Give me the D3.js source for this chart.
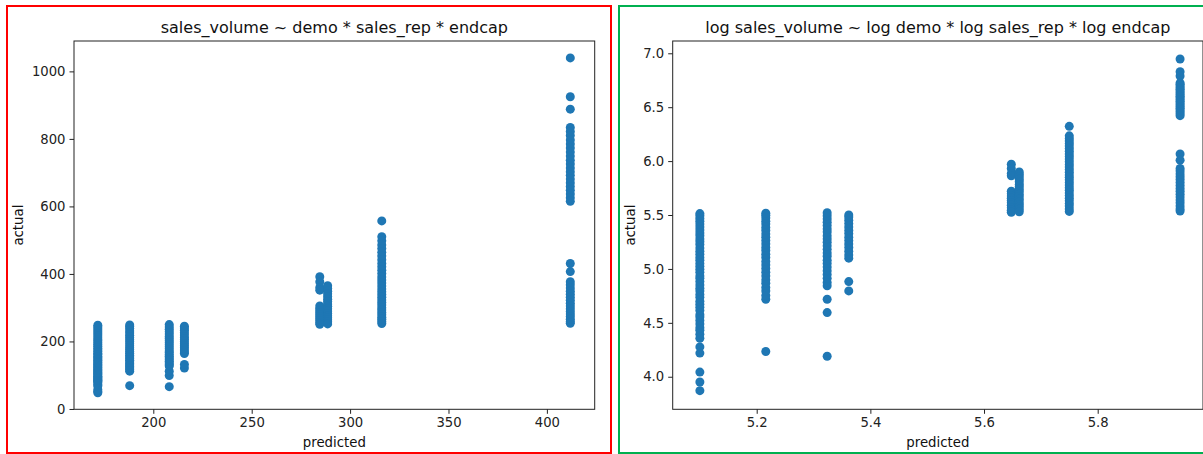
<!DOCTYPE html>
<html>
<head>
<meta charset="utf-8">
<script src="https://cdn.jsdelivr.net/npm/d3@7"></script>
<style>
  body { margin: 0; background: #fff; }
  svg { display: block; font-family: "DejaVu Sans", sans-serif; }
  .tick text { fill: #222; font-size: 13.2px; }
  .tick line { stroke: #222; }
</style>
</head>
<body>
<svg id="chart" width="1203" height="454"></svg>
<script>
// predicted value of each group, for the two models
const predLinear = [171.8, 188.0, 208.1, 215.8, 284.6, 288.6, 316.1, 411.9];
const predLog = [5.100, 5.216, 5.324, 5.362, 5.648, 5.662, 5.750, 5.945];

// actual sales_volume of each group (right panel draws the log of them)
const actual1 = [48, 52, 57, 68, 72, 78, 81, 84, 86, 89, 92, 95, 97, 101, 104, 107, 110, 114, 117, 121, 124, 128, 132, 136, 139, 144, 148, 152, 156, 161, 165, 170, 175, 180, 186, 191, 196, 202, 207, 213, 219, 225, 231, 237, 243, 248];
const actual2 = [69, 112, 116, 121, 125, 130, 134, 139, 144, 149, 154, 159, 165, 170, 176, 181, 187, 193, 199, 205, 212, 218, 225, 231, 238, 244, 249];
const actual3 = [66, 99, 112, 127, 131, 136, 141, 146, 151, 156, 161, 167, 172, 178, 184, 190, 196, 202, 209, 215, 222, 229, 236, 243, 250];
const actual4 = [121, 132, 164, 169, 175, 181, 187, 193, 199, 206, 212, 219, 226, 233, 240, 245];
const actual5 = [392, 377, 360, 352, 305, 298, 292, 286, 280, 274, 268, 262, 256, 251];
const actual6 = [365, 357, 349, 341, 333, 325, 318, 311, 304, 297, 290, 283, 276, 270, 264, 258, 252];
const actual7 = [557, 510, 498, 486, 475, 464, 453, 442, 431, 421, 411, 401, 391, 382, 373, 364, 355, 347, 339, 331, 323, 315, 308, 300, 293, 286, 279, 272, 266, 259, 253];
const actual8 = [1040, 925, 888, 834, 822, 810, 797, 785, 773, 761, 749, 737, 726, 714, 703, 692, 681, 670, 659, 648, 637, 626, 615,
                 431, 407, 377, 368, 358, 349, 340, 331, 322, 313, 305, 297, 289, 281, 274, 266, 259, 254];
const actualGroups = [actual1, actual2, actual3, actual4, actual5, actual6, actual7, actual8];

const linearTicksX = [200, 250, 300, 350, 400];
const linearTicksY = [0, 200, 400, 600, 800, 1000];
const logTicksX = [5.2, 5.4, 5.6, 5.8];
const logTicksY = [4.0, 4.5, 5.0, 5.5, 6.0, 6.5, 7.0];

const svg = d3.select("#chart");

// build the point lists
const linearPoints = [];
const logPoints = [];
actualGroups.forEach((vals, i) => {
    vals.forEach(v => {
        linearPoints.push({x: predLinear[i], y: v});
        logPoints.push({x: predLog[i], y: Math.log(v)});
    });
});

function drawPanel(opts) {
    const g = svg.append("g");

    // coloured frame round the panel
    g.append("rect")
        .attr("x", opts.frame[0]).attr("y", opts.frame[1])
        .attr("width", opts.frame[2]).attr("height", opts.frame[3])
        .attr("fill", "none")
        .attr("stroke", opts.frameColor)
        .attr("stroke-width", 2);

    const x = d3.scaleLinear().domain(opts.xDomain).range([opts.left, opts.right]);
    const y = d3.scaleLinear().domain(opts.yDomain).range([opts.bottom, opts.top]);

    // points
    g.selectAll("circle")
        .data(opts.points)
        .enter()
        .append("circle")
        .attr("cx", d => x(d.x))
        .attr("cy", d => y(d.y))
        .attr("r", 4.5)
        .attr("fill", "#1f77b4");

    // spines
    g.append("rect")
        .attr("x", opts.left).attr("y", opts.top)
        .attr("width", opts.right - opts.left)
        .attr("height", opts.bottom - opts.top)
        .attr("fill", "none")
        .attr("stroke", "#222")
        .attr("stroke-width", 1);

    // axes
    const xAxis = g.append("g")
        .attr("transform", `translate(0,${opts.bottom})`)
        .call(d3.axisBottom(x).tickValues(opts.xTicks).tickSize(4.5).tickPadding(4)
            .tickSizeOuter(0).tickFormat(opts.xFormat));
    xAxis.select(".domain").remove();

    const yAxis = g.append("g")
        .attr("transform", `translate(${opts.left},0)`)
        .call(d3.axisLeft(y).tickValues(opts.yTicks).tickSize(4.5).tickPadding(4)
            .tickSizeOuter(0).tickFormat(opts.yFormat));
    yAxis.select(".domain").remove();
    g.selectAll(".tick text").style("font-family", "DejaVu Sans");

    // title
    g.append("text")
        .attr("x", (opts.left + opts.right) / 2)
        .attr("y", 32.5)
        .attr("text-anchor", "middle")
        .style("font-size", "16px")
        .attr("fill", "#111")
        .text(opts.title);

    // axis labels
    g.append("text")
        .attr("x", (opts.left + opts.right) / 2)
        .attr("y", 446.5)
        .attr("text-anchor", "middle")
        .style("font-size", "13.3px")
        .attr("fill", "#111")
        .text("predicted");

    g.append("text")
        .attr("transform", `translate(${opts.labelX},${(opts.top + opts.bottom) / 2}) rotate(-90)`)
        .attr("text-anchor", "middle")
        .style("font-size", "13.3px")
        .attr("fill", "#111")
        .text("actual");
}

drawPanel({
    frame: [7, 6, 604, 447],
    frameColor: "#ff0000",
    left: 74, right: 594.7, top: 41, bottom: 409.3,
    xDomain: [159.7, 424.3],
    yDomain: [-1, 1090],
    xTicks: linearTicksX, yTicks: linearTicksY,
    xFormat: d3.format("d"), yFormat: d3.format("d"),
    points: linearPoints,
    labelX: 23,
    title: "sales_volume ~ demo * sales_rep * endcap"
});

drawPanel({
    frame: [619, 6, 600, 447],
    frameColor: "#00b050",
    left: 672.7, right: 1203, top: 41, bottom: 409.3,
    xDomain: [5.0522, 5.9853],
    yDomain: [3.698, 7.114],
    xTicks: logTicksX, yTicks: logTicksY,
    xFormat: d3.format(".1f"), yFormat: d3.format(".1f"),
    points: logPoints,
    labelX: 635,
    title: "log sales_volume ~ log demo * log sales_rep * log endcap"
});
</script>
</body>
</html>
